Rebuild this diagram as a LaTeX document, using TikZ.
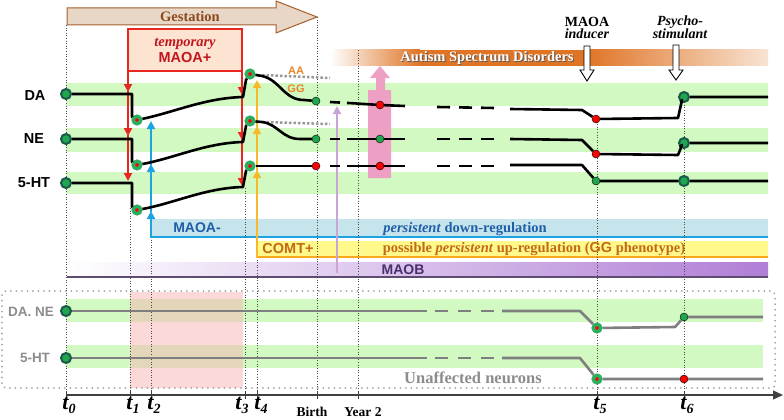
\documentclass[tikz,border=0pt]{standalone}
\usepackage{fontspec}
\setmainfont{Liberation Serif}
\setsansfont{Liberation Sans}
\usetikzlibrary{arrows.meta}

\definecolor{bandgreen}{HTML}{D2F9C2}
\definecolor{dotgreen}{HTML}{1FA64E}
\definecolor{dotring}{HTML}{1B5A4A}
\definecolor{ringgreen}{HTML}{2BAE5E}
\definecolor{traceg}{HTML}{7F7F7F}
\definecolor{redarr}{HTML}{EA2620}
\definecolor{maoared}{HTML}{C3161C}
\definecolor{boxpeach}{HTML}{FCE3D2}
\definecolor{bluearr}{HTML}{1DA4E0}
\definecolor{bluefill}{HTML}{C6E4EC}
\definecolor{bluetext}{HTML}{1F5EA8}
\definecolor{yellowarr}{HTML}{F7B82A}
\definecolor{comtfill}{HTML}{FFF98C}
\definecolor{comttext}{HTML}{C46A12}
\definecolor{maobpurple}{HTML}{B07ED6}
\definecolor{maobtext}{HTML}{4B2F6C}
\definecolor{maobline}{HTML}{5D4D70}
\definecolor{lavender}{HTML}{C7A6D6}
\definecolor{asdorange}{HTML}{DF7425}
\definecolor{pinkarr}{HTML}{EEA0C4}
\definecolor{hatchpink}{HTML}{F7B4B4}
\definecolor{gestfill}{HTML}{E8D6C6}
\definecolor{gestdraw}{HTML}{A65F2C}
\definecolor{gesttext}{HTML}{8C4A1E}
\definecolor{aatext}{HTML}{E8862A}
\definecolor{greytext}{HTML}{8C8C8C}

\newcommand{\tmark}[1]{t\raisebox{-4pt}{\fontsize{14}{14}\selectfont #1}}

\begin{document}
\begin{tikzpicture}[x=1pt,y=-1pt]
  \tikzstyle{band}=[fill=bandgreen]
  \tikzstyle{neuroline}=[line width=2.6pt,line join=round]
  \tikzstyle{greyline}=[neuroline,draw=traceg]
  \tikzstyle{shortdash}=[neuroline,dash pattern=on 10pt off 7pt]
  \tikzstyle{longdash}=[neuroline,dash pattern=on 13pt off 9pt]
  \tikzstyle{guide}=[dotted,line width=.6pt,black!70]
  \tikzstyle{bigdot}=[circle,draw=dotring,line width=2pt,fill=dotgreen,minimum size=10pt,inner sep=0pt]
  \tikzstyle{ringdot}=[circle,draw=ringgreen,line width=3.5pt,fill=red,minimum size=7.5pt,inner sep=0pt]
  \tikzstyle{gdot}=[circle,draw=black,line width=.4pt,fill=dotgreen,minimum size=8pt,inner sep=0pt]
  \tikzstyle{rdot}=[gdot,fill=red]
  \tikzstyle{arr}=[line width=2.6pt,-{Triangle[length=8pt,width=8pt]}]
  \tikzstyle{sansb}=[font=\fontsize{14.5}{14.5}\sffamily\bfseries,inner sep=0pt]
  \tikzstyle{serifb}=[font=\fontsize{14.5}{14.5}\bfseries,inner sep=0pt]
  \tikzstyle{tlab}=[anchor=base,font=\fontsize{22}{22}\bfseries\itshape,inner sep=0pt]
  \useasboundingbox (0,0) rectangle (784,420);

  % bands
  \fill[band] (66,83) rectangle (768,106);
  \fill[band] (66,128) rectangle (768,152);
  \fill[band] (66,172) rectangle (768,194);
  \fill[band] (66,299) rectangle (763,322);
  \fill[band] (66,345) rectangle (763,368);
  \fill[hatchpink,opacity=.5] (130,292) rectangle (243,388);
  \draw[greytext!80,line width=2pt,line cap=round,dash pattern=on 0pt off 5.5pt,rounded corners=4pt] (2,291) rectangle (775,388);

  % bars
  \fill[bluefill] (151,219) rectangle (768,237);
  \draw[bluearr,line width=2pt] (151,237) -- (768,237);
  \fill[comtfill] (257,241) rectangle (768,257);
  \draw[yellowarr!70!orange,line width=1.6pt] (257,257) -- (768,257);
  \shade[left color=white,right color=maobpurple] (67,262) rectangle (768,277);
  \draw[maobline,line width=1.2pt] (67,277) -- (768,277);
  \shade[left color=white,right color=asdorange] (330,50) rectangle (420,66);
  \fill[asdorange] (419,50) rectangle (585,66);
  \shade[left color=asdorange,right color=asdorange!20] (584,50) rectangle (768,66);

  \draw[gestdraw,fill=gestfill,line width=1pt] (67,8) -- (276,8) -- (276,1) -- (317,17) -- (276,33) -- (276,25) -- (67,25) -- cycle;
  \node[serifb,text=gesttext] (gest) at (190,17) {Gestation};

  \node[draw=redarr,line width=2pt,fill=boxpeach,minimum width=114pt,minimum height=42pt,
        inner sep=0pt,outer sep=0pt,align=center,text=maoared,
        font=\fontsize{14.5}{16}\bfseries] (maoa) at (185,50) {\textit{temporary}\\{\sffamily MAOA+}};

  % time guides
  \draw[guide] (66,25) -- (66,395);
  \draw[guide] (130,208) -- (130,395);
  \draw[guide] (151,237) -- (151,395);
  \draw[guide] (245,188) -- (245,395);
  \draw[guide] (257,257) -- (257,395);
  \draw[guide] (317,17) -- (317,395);
  \draw[guide] (358,50) -- (358,395);
  \draw[guide] (597,119) -- (597,395);
  \draw[guide] (684,97) -- (684,395);

  \fill[pinkarr] (368,178) -- (368,90) -- (376,90) -- (376,78) -- (370,78) -- (380,66)
    -- (390,78) -- (385,78) -- (385,90) -- (391,90) -- (391,178) -- cycle;
  \draw[arr,lavender] (337,273) -- (337,106);

  \draw[fill=white,line width=.9pt] (584,46) -- (590,46) -- (590,70) -- (594,70) -- (587,81) -- (580,70) -- (584,70) -- cycle;
  \draw[fill=white,line width=.9pt] (673,45) -- (679,45) -- (679,70) -- (683,70) -- (676,80) -- (669,70) -- (673,70) -- cycle;

  % arrows
  \draw[arr,redarr] (maoa.south west) -- (128,92);
  \draw[arr,redarr] (128,91) -- (128,136);
  \draw[arr,redarr] (128,135) -- (128,181);
  \draw[arr,redarr] (maoa.south east) -- (242,95);
  \draw[arr,redarr] (242,94) -- (242,140);
  \draw[arr,redarr] (242,139) -- (242,186);
  \draw[arr,bluearr] (151,238) -- (151,211);
  \draw[arr,bluearr] (151,212) -- (151,164);
  \draw[arr,bluearr] (151,165) -- (151,121);
  \draw[arr,yellowarr] (257,258) -- (257,170);
  \draw[arr,yellowarr] (257,171) -- (257,126);
  \draw[arr,yellowarr] (257,127) -- (257,80);

  % affected neurons
  \node[bigdot] (da0) at (66,94) {};
  \node[ringdot] (da1) at (137,120) {};
  \node[ringdot] (da3) at (250,74) {};
  \node[gdot] (daB) at (316,101) {};
  \node[rdot] (daY) at (380,105) {};
  \node[rdot] (daT5) at (596,119) {};
  \node[bigdot] (daT6) at (684,97) {};
  \node[bigdot] (ne0) at (66,139) {};
  \node[ringdot] (ne1) at (137,165) {};
  \node[ringdot] (ne3) at (250,121) {};
  \node[gdot] (neB) at (316,139) {};
  \node[gdot] (neY) at (380,139) {};
  \node[rdot] (neT5) at (596,154) {};
  \node[bigdot] (neT6) at (684,143) {};
  \node[bigdot] (ht0) at (66,183) {};
  \node[ringdot] (ht1) at (137,210) {};
  \node[ringdot] (ht3) at (250,166) {};
  \node[rdot] (htB) at (316,166) {};
  \node[rdot] (htY) at (380,166) {};
  \node[gdot] (htT5) at (596,181) {};
  \node[bigdot] (htT6) at (684,181) {};

  \draw[traceg!80,line width=2.5pt,dash pattern=on 2.5pt off 2pt] (262,75) -- (330,78);
  \draw[traceg!80,line width=2.5pt,dash pattern=on 2.5pt off 2pt] (262,122) -- (330,124);

  \draw[neuroline] (da0) -- (132,94) -- (132,117) -- (da1);
  \draw[neuroline] (da1) .. controls (175,112) and (205,98) .. (243,97) -- (246,80) -- (da3);
  \draw[neuroline] (da3) -- (262,76) .. controls (280,80) and (284,100) .. (304,100) -- (daB);
  \draw[shortdash] (330,102) -- (357,103.5);
  \draw[neuroline] (356,103.5) -- (daY) -- (405,106);
  \draw[longdash] (437,107) -- (495,108);
  \draw[neuroline] (510,109) -- (582,110) -- (daT5) -- (678,118) -- (682,100) -- (daT6) -- (768,97);

  \draw[neuroline] (ne0) -- (132,139) -- (132,162) -- (ne1);
  \draw[neuroline] (ne1) .. controls (175,158) and (205,143) .. (243,142) -- (246,126) -- (ne3);
  \draw[neuroline] (ne3) -- (262,122) .. controls (278,124) and (282,139) .. (300,139) -- (neB);
  \draw[shortdash] (330,139) -- (357,139);
  \draw[neuroline] (356,139) -- (neY) -- (405,139);
  \draw[longdash] (437,139) -- (495,139);
  \draw[neuroline] (510,139) -- (582,140) -- (neT5) -- (678,155) -- (682,145) -- (neT6) -- (768,143);

  \draw[neuroline] (ht0) -- (132,183) -- (132,207) -- (ht1);
  \draw[neuroline] (ht1) .. controls (175,203) and (205,188) .. (243,187) -- (246,171) -- (ht3);
  \draw[neuroline] (ht3) -- (htB);
  \draw[shortdash] (330,166) -- (357,166);
  \draw[neuroline] (356,166) -- (htY) -- (405,166);
  \draw[longdash] (437,166) -- (495,166);
  \draw[neuroline] (510,165) -- (582,165) -- (htT5) -- (htT6) -- (768,181);

  % unaffected neurons
  \node[bigdot] (bda0) at (66,311) {};
  \node[ringdot] (bdaT5) at (597,328) {};
  \node[gdot] (bdaT6) at (684,317) {};
  \node[bigdot] (bht0) at (66,358) {};
  \node[ringdot] (bhtT5) at (597,379) {};
  \node[rdot] (bhtT6) at (684,379) {};
  \draw[greyline] (bda0) -- (427,311);
  \draw[greyline,dash pattern=on 13pt off 10pt] (435,311) -- (494,311);
  \draw[greyline] (502,311) -- (580,311) -- (bdaT5) -- (675,327) -- (bdaT6) -- (763,317);
  \draw[greyline] (bht0) -- (427,358);
  \draw[greyline,dash pattern=on 13pt off 10pt] (435,358) -- (494,358);
  \draw[greyline] (502,358) -- (580,358) -- (bhtT5) -- (bhtT6) -- (763,379);

  % labels
  \node[sansb] (lda) at (35,96) {DA};
  \node[sansb] (lne) at (34,139) {NE};
  \node[sansb] (lht) at (34,183) {5-HT};
  \node[sansb,text=greytext,font=\fontsize{13.5}{13.5}\sffamily\bfseries] (ldane) at (31,312) {DA. NE};
  \node[sansb,text=greytext,font=\fontsize{13.5}{13.5}\sffamily\bfseries] (lbht) at (35,358) {5-HT};
  \node[sansb,text=aatext,font=\fontsize{11}{11}\sffamily\bfseries] (aa) at (296,71) {AA};
  \node[sansb,text=aatext,font=\fontsize{11}{11}\sffamily\bfseries] (gg) at (296,89) {GG};
  \node[serifb,text=black!65] (asdshadow) at (488,59) {Autism Spectrum Disorders};
  \node[serifb,text=white] (asd) at (487,58) {Autism Spectrum Disorders};
  \node[align=center,font=\fontsize{14}{12.5}\bfseries,inner sep=0pt] (inducer) at (587,28) {MAOA\\\textit{inducer}};
  \node[align=center,font=\fontsize{14}{13}\bfseries\itshape,inner sep=0pt] (psycho) at (680,27) {Psycho-\\stimulant};
  \node[sansb,text=bluetext,font=\fontsize{14}{14}\sffamily\bfseries] (maoaminus) at (197,228) {MAOA-};
  \node[serifb,text=bluetext] (down) at (465,229) {\textit{persistent} down-regulation};
  \node[sansb,text=comttext] (comt) at (288,249) {COMT+};
  \node[serifb,text=comttext] (up) at (534,249) {possible \textit{persistent} up-regulation ({\sffamily GG} phenotype)};
  \node[sansb,text=maobtext,font=\fontsize{14}{14}\sffamily\bfseries] (maob) at (403,270) {MAOB};
  \node[serifb,text=greytext,font=\fontsize{16.5}{16.5}\bfseries] (unaff) at (473,378) {Unaffected neurons};

  % time axis
  \draw[black!75,line width=1.3pt,-{Triangle[length=10pt,width=9pt]}] (66,395) -- (783,395);
  \foreach \x in {66,130,151,245,257,317,358,597,684}
    \draw[black!75,line width=1pt] (\x,391) -- (\x,399);
  \node[tlab] (lt0) at (69,409) {\tmark{0}};
  \node[tlab] (lt1) at (133,409) {\tmark{1}};
  \node[tlab] (lt2) at (154,409) {\tmark{2}};
  \node[tlab] (lt3) at (242,409) {\tmark{3}};
  \node[tlab] (lt4) at (261,409) {\tmark{4}};
  \node[tlab] (lt5) at (600,409) {\tmark{5}};
  \node[tlab] (lt6) at (687,409) {\tmark{6}};
  \node[font=\fontsize{13.5}{13.5}\bfseries,inner sep=0pt] (birth) at (312,412) {Birth};
  \node[font=\fontsize{13.5}{13.5}\bfseries,inner sep=0pt] (year) at (363,412) {Year 2};
\end{tikzpicture}
\end{document}
